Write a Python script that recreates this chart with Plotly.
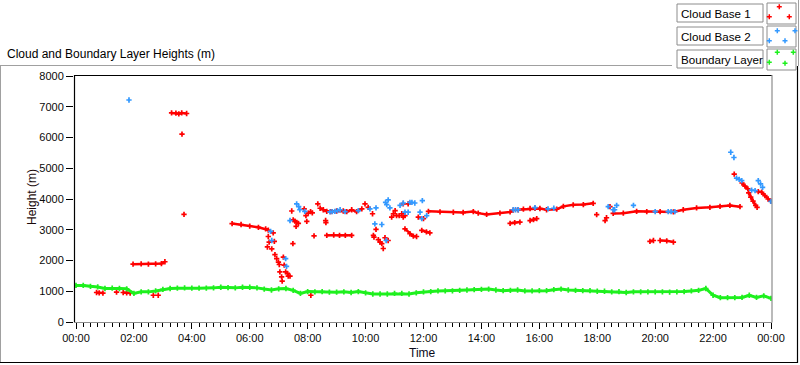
import plotly.graph_objects as go

# ---------------- data (hours since 00:00, height in m) ----------------
# Boundary layer, sampled every 15 minutes
bl_time = [i * 0.25 for i in range(97)]
bl_height = [1190, 1190, 1160, 1140, 1090, 1100, 1090, 1080, 930, 980, 980, 1010,
             1060, 1090, 1100, 1110, 1100, 1100, 1100, 1110, 1130, 1120, 1110, 1130,
             1130, 1110, 1070, 1040, 1080, 1090, 1030, 930, 990, 980, 990, 970,
             970, 980, 960, 990, 950, 910, 910, 910, 930, 930, 910, 950,
             980, 990, 1010, 1010, 1010, 1030, 1040, 1050, 1060, 1070, 1040, 1020,
             1030, 1040, 1010, 1010, 1020, 1020, 1050, 1070, 1040, 1030, 1020, 1020,
             1000, 1000, 980, 990, 960, 980, 980, 980, 980, 980, 970, 980,
             990, 1010, 1030, 1090, 870, 790, 790, 790, 800, 870, 800, 850, 770]

# Cloud base 1: continuous segments (None separates segments)
cb1_seg_time = [0.71, 0.80, 0.93, None,
                1.63, 1.75, 1.87, None,
                1.97, 2.25, 2.50, 2.75, 2.95, 3.07, None,
                3.30, 3.45, 3.55, 3.65, 3.82, None,
                5.39, 5.70, 6.00, 6.30, 6.55, 6.64, None,
                8.43, 8.54, 8.66, 8.80, 9.00, 9.23, 9.35, 9.52, 9.69, 9.87, None,
                8.66, 8.90, 9.10, 9.30, 9.52, None,
                11.36, 11.53, 11.65, 11.76, None,
                11.94, 12.10, 12.22, None,
                12.17, 12.57, 13.03, 13.37, 13.72, 13.89, 14.18, 14.64, 14.99, 15.10,
                15.27, 15.45, 15.68, 15.85, 16.02, 16.25, 16.60, 16.83, 17.17, 17.52, 17.86, None,
                14.99, 15.15, 15.33, None,
                15.68, 15.80, 15.91, None,
                18.55, 18.90, 19.36, 19.71, 20.17, 20.63, 20.97, 21.43, 21.89, 22.24, 22.58, 22.93, None,
                19.82, 19.94, None,
                20.17, 20.40, 20.63, None,
                23.00, 23.10, 23.20, None,
                23.23, 23.30, 23.38, 23.47, 23.52, None,
                23.56, 23.68, 23.79, 23.90, 23.99]
cb1_seg_height = [960, 945, 940, None,
                  960, 950, 940, None,
                  1880, 1890, 1880, 1890, 1900, 1960, None,
                  6800, 6790, 6770, 6800, 6780, None,
                  3200, 3170, 3120, 3080, 3030, 2990, None,
                  3700, 3650, 3600, 3590, 3610, 3610, 3590, 3650, 3590, 3680, None,
                  2820, 2830, 2820, 2820, 2820, None,
                  3030, 2870, 2790, 2780, None,
                  2980, 2930, 2900, None,
                  3600, 3580, 3570, 3560, 3590, 3540, 3500, 3540, 3580, 3640,
                  3650, 3670, 3690, 3700, 3690, 3650, 3670, 3760, 3810, 3820, 3860, None,
                  3210, 3230, 3250, None,
                  3300, 3330, 3360, None,
                  3530, 3540, 3600, 3590, 3590, 3580, 3650, 3710, 3730, 3760, 3790, 3750, None,
                  2620, 2650, None,
                  2650, 2640, 2600, None,
                  4520, 4420, 4330, None,
                  4200, 4060, 3930, 3790, 3730, None,
                  4240, 4220, 4110, 4000, 3930]

# Cloud base 1: isolated detections
cb1_pt_time = [1.40, 2.67, 2.84, 3.66, 3.73,
               6.81, 6.64, 6.67, 6.85, 6.61, 6.76, 6.87, 6.93, 6.99, 7.02, 7.04, 7.10, 7.12,
               7.16, 7.19, 7.24, 7.30, 7.33, 7.39, 7.49, 8.11,
               7.45, 7.50, 7.56, 7.62, 7.68, 7.60,
               7.88, 7.94, 8.02, 8.10, 8.16, 7.97, 8.22, 8.35, 8.62, 8.63,
               9.98, 10.09, 10.24,
               10.36, 10.27, 10.44, 10.56, 10.61, 10.78, 10.67, 10.29, 10.50,
               10.90, 10.96, 11.02, 11.07, 11.16, 11.25, 11.30, 11.36, 11.30, 11.47,
               11.82, 12.00,
               17.98, 18.27, 18.32, 18.44,
               22.73]
cb1_pt_height = [970, 870, 870, 6110, 3500,
                 2900, 2780, 2600, 2620, 2440, 2380, 2190, 2060, 1950, 1870, 1630, 1470, 1330,
                 2110, 1850, 1630, 1580, 1490, 1490, 2550, 870,
                 3610, 3320, 3280, 3240, 3210, 3110,
                 3680, 3460, 3540, 3590, 3550, 3270, 2800, 3840, 3300, 3230,
                 3840, 3730, 3520,
                 3010, 2820, 2680, 2550, 2390, 2650, 2740, 2760, 2600,
                 3410, 3520, 3620, 3460, 3460, 3520, 3410, 3460, 3840, 3840,
                 3410, 3360,
                 3490, 3300, 3390, 3750,
                 4810]

# Cloud base 2
cb2_time = [1.83,
            6.72, 6.76, 7.24, 7.27,
            7.39, 7.62, 7.69, 7.73, 7.90,
            8.77, 8.85, 8.94, 9.03, 9.12,
            9.29, 9.75, 10.15, 10.36,
            10.32, 10.56, 10.71,
            10.69, 10.78, 10.73, 10.84,
            11.19, 11.30, 11.53, 11.60, 11.70, 11.36, 11.47,
            11.88, 11.94, 12.11, 11.96,
            15.10, 15.18, 15.27, 15.85, 16.30, 16.50,
            18.38, 18.67, 18.55, 18.60, 19.25,
            20.00, 20.45, 20.55, 20.68,
            22.61, 22.72, 22.81, 22.90, 22.99, 23.33, 23.45, 23.56, 23.64, 23.71, 24.00]
cb2_height = [7220,
              2950, 2650, 2060, 1810,
              3300, 3840, 3750, 3650, 3600,
              3580, 3590, 3600, 3620, 3650,
              3590, 3620, 3680, 3710,
              3190, 3170, 2650,
              3890, 3970, 3820, 3710,
              3790, 3870, 3890, 3890, 3870, 3570, 3570,
              3570, 3360, 3460, 3950,
              3650, 3650, 3650, 3720, 3680, 3700,
              3750, 3790, 3650, 3650, 3790,
              3590, 3590, 3590, 3590,
              5520, 5350, 4680, 4640, 4600, 4290, 4270, 4600, 4490, 4380, 3920]

x_tick_vals = [0, 2, 4, 6, 8, 10, 12, 14, 16, 18, 20, 22, 24]
x_tick_text = ["00:00", "02:00", "04:00", "06:00", "08:00", "10:00", "12:00",
               "14:00", "16:00", "18:00", "20:00", "22:00", "00:00"]
y_tick_vals = [0, 1000, 2000, 3000, 4000, 5000, 6000, 7000, 8000]
y_tick_text = ["0", "1000", "2000", "3000", "4000", "5000", "6000", "7000", "8000"]
legend_names = ["Cloud Base 1", "Cloud Base 2", "Boundary Layer"]

RED = "#ff0000"
BLUE = "#3399ff"
GREEN = "#1ef01e"
FONT = "Liberation Sans, Arial, sans-serif"

# ---------------- layout geometry (pixels) ----------------
W, H = 800, 365
L, R = 74, 772          # plot area left / right pixel
T, B = 75, 322          # plot area top / bottom pixel


def px(x):
    return (x - L) / (R - L)


def py(y):
    return (B - y) / (B - T)


def mk(color):
    return dict(symbol="cross-thin", size=3.8, line=dict(width=1.7, color=color), color=color)


fig = go.Figure()
fig.add_trace(go.Scatter(x=cb1_seg_time, y=cb1_seg_height, mode="lines+markers",
                         line=dict(color=RED, width=2.5), marker=mk(RED),
                         connectgaps=False, showlegend=False, hoverinfo="skip"))
fig.add_trace(go.Scatter(x=cb1_pt_time, y=cb1_pt_height, mode="markers",
                         marker=mk(RED), showlegend=False, hoverinfo="skip"))
fig.add_trace(go.Scatter(x=cb2_time, y=cb2_height, mode="markers",
                         marker=mk(BLUE), showlegend=False, hoverinfo="skip"))
fig.add_trace(go.Scatter(x=bl_time, y=bl_height, mode="lines+markers",
                         line=dict(color=GREEN, width=3), marker=mk(GREEN),
                         showlegend=False, hoverinfo="skip"))

# x range so that 00:00 sits at pixel 76 and 24:00 at pixel 771
ppx = (771 - 76) / 24.0
x_range = [-(76 - L) / ppx, 24 + (R - 771) / ppx]
ppy = (B - 76) / 8000.0
y_range = [0, 8000 + (76 - T) / ppy]

fig.update_xaxes(range=x_range, showgrid=False, zeroline=False, showline=False,
                 tickmode="array", tickvals=x_tick_vals, ticktext=x_tick_text,
                 ticks="outside", ticklen=6, tickwidth=1, tickcolor="#000",
                 tickfont=dict(family=FONT, size=11, color="#0a0a0a"),
                 minor=dict(tickmode="array", tickvals=[i * 0.25 for i in range(97)],
                            ticks="outside", ticklen=4, tickwidth=1, tickcolor="#000"))
fig.update_yaxes(range=y_range, showgrid=False, zeroline=False, showline=False,
                 tickmode="array", tickvals=y_tick_vals, ticktext=y_tick_text,
                 ticks="outside", ticklen=7, tickwidth=1, tickcolor="#000",
                 tickfont=dict(family=FONT, size=11, color="#0a0a0a"))

shapes = []


def line(x0, y0, x1, y1, color, width=1):
    shapes.append(dict(type="line", xref="paper", yref="paper",
                       x0=px(x0), y0=py(y0), x1=px(x1), y1=py(y1),
                       line=dict(color=color, width=width), layer="above"))


def rect(x0, y0, x1, y1, color="#8c8c8c"):
    shapes.append(dict(type="rect", xref="paper", yref="paper",
                       x0=px(x0), y0=py(y0), x1=px(x1), y1=py(y1),
                       line=dict(color=color, width=1), fillcolor="white", layer="above"))


def cross(x, y, color):
    shapes.append(dict(type="path", xref="paper", yref="paper",
                       path=f"M {px(x-2.5)},{py(y)} L {px(x+2.5)},{py(y)} "
                            f"M {px(x)},{py(y-2.5)} L {px(x)},{py(y+2.5)}",
                       line=dict(color=color, width=1.5), layer="above"))


# plot frame
line(L + 0.5, T, L + 0.5, B + 0.5, "#000", 1.2)
line(L, T + 0.5, R, T + 0.5, "#000", 1.2)
line(R, T, R, B + 0.5, "#8c8c8c", 1.2)
line(L, B + 0.5, R, B + 0.5, "#8c8c8c", 1.2)

# outer panel frame
line(0, 65.5, 672, 65.5, "#a0a0a0", 1)
line(0.5, 65.5, 0.5, 363, "#a0a0a0", 1)
line(0, 362.5, 797.5, 362.5, "#000", 1.2)
line(797.5, 66, 797.5, 363, "#000", 1.2)
line(798.5, 0, 798.5, 66, "#a0a0a0", 1)

# legend boxes
legend_rows = [(4, 22, 3, 24), (27, 45, 26, 47), (50, 68, 49, 70)]
for (ty0, ty1, sy0, sy1) in legend_rows:
    rect(677, ty0, 763, ty1)
    rect(767, sy0, 796, sy1)

for (cx, cy) in [(779.3, 6.7), (769.3, 16.7), (789.3, 16.7)]:
    cross(cx, cy, RED)
for (cx, cy) in [(777.3, 30.7), (795, 30.7), (769.3, 40.7), (785, 40.7)]:
    cross(cx, cy, BLUE)
for (cx, cy) in [(777.3, 52.3), (793.3, 52.3), (769.3, 62.3), (785, 63.3)]:
    cross(cx, cy, GREEN)

annotations = []
for name, (ty0, ty1, _, _) in zip(legend_names, legend_rows):
    annotations.append(dict(text=name, xref="paper", yref="paper",
                            x=px(679), y=py((ty0 + ty1) / 2 + 0.5), xanchor="left",
                            yanchor="middle", showarrow=False,
                            font=dict(family=FONT, size=11.6, color="#000")))

annotations.append(dict(text="Cloud and Boundary Layer Heights (m)", xref="paper", yref="paper",
                        x=px(5), y=py(54), xanchor="left", yanchor="middle", showarrow=False,
                        font=dict(family=FONT, size=12, color="#000")))
annotations.append(dict(text="Height (m)", xref="paper", yref="paper",
                        x=px(32), y=py(197), xanchor="center", yanchor="middle",
                        textangle=-90, showarrow=False,
                        font=dict(family=FONT, size=12, color="#1a0a0a")))
annotations.append(dict(text="Time", xref="paper", yref="paper",
                        x=px(422), y=py(353), xanchor="center", yanchor="middle",
                        showarrow=False, font=dict(family=FONT, size=12, color="#0a0a1a")))

fig.update_layout(width=W, height=H, autosize=False,
                  margin=dict(l=L, r=W - R, t=T, b=H - B, pad=0),
                  paper_bgcolor="white", plot_bgcolor="white",
                  font=dict(family=FONT, size=11, color="#000"),
                  shapes=shapes, annotations=annotations, showlegend=False)

fig.write_html("out.html", config={"displayModeBar": False, "staticPlot": True},
               post_script="document.body.style.margin='0';document.body.style.overflow='hidden';")
